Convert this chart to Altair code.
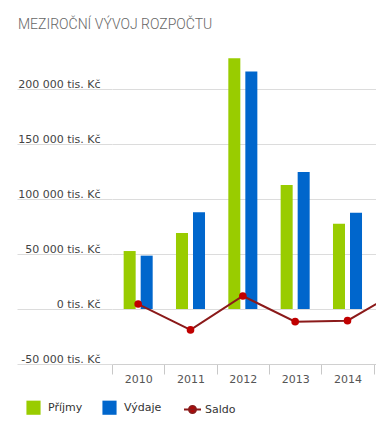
import altair as alt
import pandas as pd

years = ["2010", "2011", "2012", "2013", "2014", "2015"]
bar_years = ["2010", "2011", "2012", "2013", "2014"]
prijmy = [52700, 69000, 228000, 112700, 77500]
vydaje = [48500, 88000, 216000, 124500, 87500]
saldo = [4500, -19000, 11800, -11500, -10600, 17000]
series = ["Příjmy", "Výdaje"]
y_ticks = [-50000, 0, 50000, 100000, 150000, 200000]

bars_df = pd.DataFrame(
    [{"rok": y, "serie": "Příjmy", "hodnota": v} for y, v in zip(bar_years, prijmy)]
    + [{"rok": y, "serie": "Výdaje", "hodnota": v} for y, v in zip(bar_years, vydaje)]
)
saldo_df = pd.DataFrame({"rok": years, "saldo": saldo, "serie": ["Saldo"] * len(years)})

FONT = "DejaVu Sans"
GRID = "#dcdcdc"

x_scale = alt.Scale(domain=years, range=[0, 314], paddingInner=0, paddingOuter=0)
y_scale = alt.Scale(domain=[-50000, 240000], nice=False, zero=False)

x_axis = alt.Axis(
    title=None, values=bar_years, tickBand="extent", tickSize=10, tickColor="#c8c8c8",
    domainColor="#d0d0d0", labelFont=FONT, labelFontSize=11, labelColor="#555",
    labelPadding=-1, labelAngle=0, grid=False,
)
y_axis = alt.Axis(
    title=None, values=y_ticks, grid=True, gridColor=GRID, domain=False,
    tickSize=95, tickColor=GRID, labelPadding=-83, labelAlign="right",
    labelBaseline="alphabetic", labelOffset=-2, labelFont=FONT, labelFontSize=11,
    labelColor="#444", labelFlush=False, labelOverlap=False,
    labelExpr="(datum.value < 0 ? '-' : '') + replace(format(abs(datum.value), ','), ',', ' ') + ' tis. Kč'",
)

bars = alt.Chart(bars_df).mark_bar(clip=True).encode(
    x=alt.X("rok:N", scale=x_scale, axis=x_axis, sort=years),
    xOffset=alt.XOffset("serie:N", sort=series,
                        scale=alt.Scale(paddingInner=0.294, paddingOuter=0.685)),
    y=alt.Y("hodnota:Q", scale=y_scale, axis=y_axis),
    color=alt.Color(
        "serie:N", sort=series,
        scale=alt.Scale(domain=series, range=["#99cc00", "#0066cc"]),
        legend=alt.Legend(
            title=None, orient="none", legendX=-86, legendY=355, direction="horizontal",
            symbolType="square", symbolSize=200, symbolStrokeWidth=0,
            labelFont=FONT, labelFontSize=11, labelColor="#333",
            columnPadding=19, labelOffset=7,
        ),
    ),
)

line = alt.Chart(saldo_df).mark_line(clip=True, strokeWidth=2).encode(
    x=alt.X("rok:N", scale=x_scale, sort=years, axis=x_axis),
    y=alt.Y("saldo:Q", scale=y_scale, axis=y_axis),
    stroke=alt.Stroke(
        "serie:N",
        scale=alt.Scale(domain=["Saldo"], range=["#8b1a1a"]),
        legend=alt.Legend(
            title=None, orient="none", legendX=71, legendY=355, direction="horizontal",
            symbolType="M-1,0L1,0M-0.41,0A0.41,0.41,0,1,0,0.41,0A0.41,0.41,0,1,0,-0.41,0Z",
            symbolSize=289, symbolStrokeWidth=2, symbolFillColor="#c00000",
            labelFont=FONT, labelFontSize=11, labelColor="#333", labelOffset=3,
        ),
    ),
)

points = alt.Chart(saldo_df).mark_circle(clip=True, size=58, opacity=1, color="#c00000").encode(
    x=alt.X("rok:N", scale=x_scale, sort=years, axis=x_axis),
    y=alt.Y("saldo:Q", scale=y_scale, axis=y_axis),
)

chart = alt.layer(bars, line, points).resolve_scale(color="independent").properties(
    width=264,
    height=319,
    autosize=alt.AutoSizeParams(type="none"),
    padding={"left": 112, "top": 45, "right": 0, "bottom": 67},
    background="white",
    title=alt.Title(
        "MEZIROČNÍ VÝVOJ ROZPOČTU", anchor="start", frame="group", dx=-94, dy=15, offset=17,
        baseline="alphabetic", font="Roboto", fontSize=14, fontWeight=300, color="#666",
    ),
).configure_view(stroke=None).configure_axisY(domain=False)

chart.save("out.html", embed_options={"renderer": "svg", "actions": False})
